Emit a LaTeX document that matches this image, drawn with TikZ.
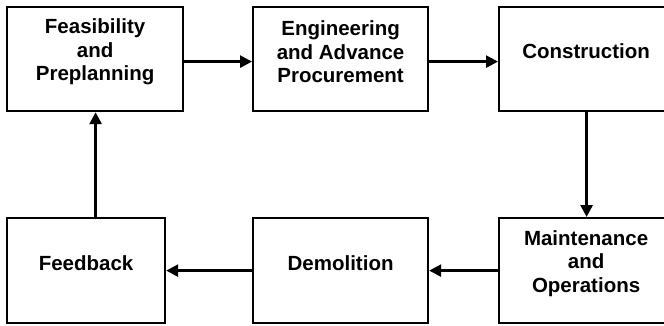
\documentclass[tikz,border=0pt]{standalone}
\usepackage{fontspec}
\setmainfont{Liberation Sans}
\usetikzlibrary{arrows.meta}
\begin{document}
\begin{tikzpicture}[x=1bp,y=-1bp,
  stage/.style={draw=black,line width=2.2bp,rectangle,inner sep=0pt,anchor=north west},
  caption/.style={align=center,inner sep=0pt,font=\fontsize{20.5bp}{23.5bp}\selectfont\bfseries},
  flow/.style={line width=2.6bp,-{Triangle[length=12bp,width=12bp]}}]
\useasboundingbox (0,0) rectangle (664,325);
% process stages
\node[stage,minimum width=176bp,minimum height=104bp] (feas) at (6,6) {};
\node[stage,minimum width=175bp,minimum height=104bp] (eng)  at (252,6) {};
\node[stage,minimum width=174bp,minimum height=104bp] (cons) at (498,6) {};
\node[stage,minimum width=158bp,minimum height=105bp] (feed) at (6,217) {};
\node[stage,minimum width=175bp,minimum height=105bp] (demo) at (252,217) {};
\node[stage,minimum width=174bp,minimum height=105bp] (main) at (498,217) {};
% stage names, set a little above the middle of each box
\node[caption] (tfeas) at ([yshift=7bp]feas.center) {Feasibility\\and\\Preplanning};
\node[caption] (teng)  at ([yshift=7bp]eng.center) {Engineering\\and Advance\\Procurement};
\node[caption] (tcons) at ([yshift=8bp]cons.center) {Construction};
\node[caption] (tfeed) at ([yshift=7bp]feed.center) {Feedback};
\node[caption] (tdemo) at ([yshift=7bp]demo.center) {Demolition};
\node[caption] (tmain) at ([yshift=7bp]main.center) {Maintenance\\and\\Operations};
% flow between stages
\draw[flow] ([yshift=-2.5bp]feas.east) -- ([yshift=-2.5bp]eng.west);
\draw[flow] ([yshift=-2.5bp]eng.east) -- ([yshift=-2.5bp]cons.west);
\draw[flow] ([xshift=0.5bp]cons.south) -- ([xshift=0.5bp]main.north);
\draw[flow] (main.west) -- (demo.east);
\draw[flow] (demo.west) -- (feed.east);
\draw[flow] ([xshift=0.5bp]feas.south |- feed.north) -- ([xshift=0.5bp]feas.south);
\end{tikzpicture}
\end{document}
